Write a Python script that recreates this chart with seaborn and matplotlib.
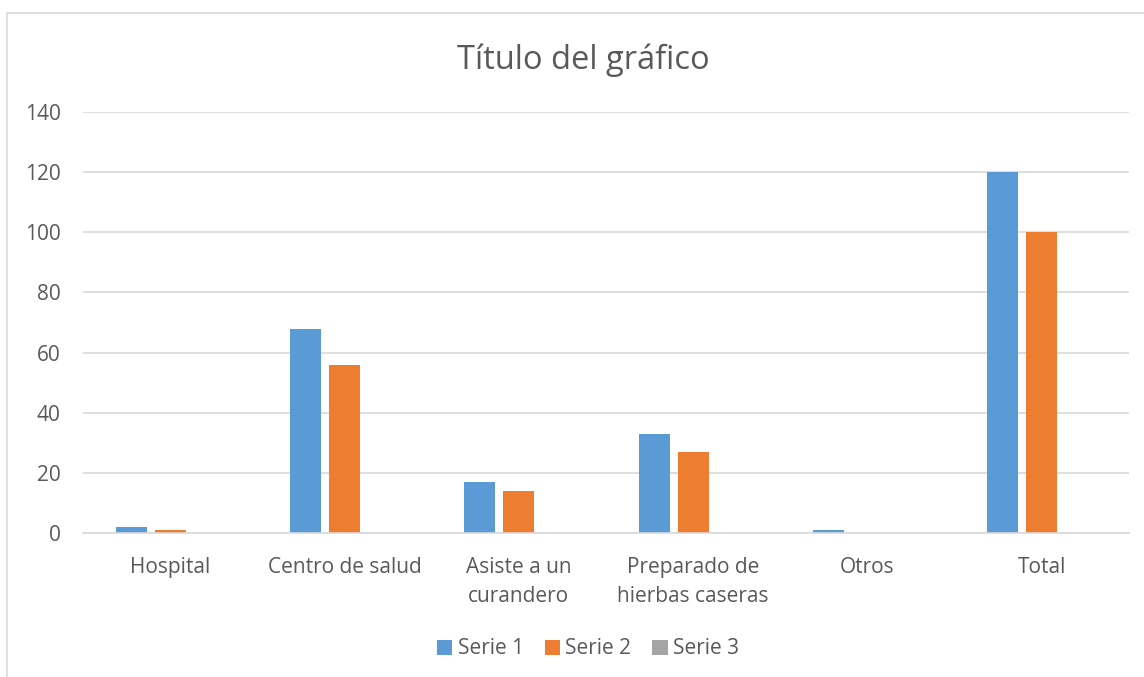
import pandas as pd
import matplotlib
matplotlib.use("Agg")
import matplotlib.pyplot as plt
import seaborn as sns
from matplotlib.patches import Rectangle

# chart data
categorias = ["Hospital", "Centro de salud", "Asiste a un\ncurandero",
              "Preparado de\nhierbas caseras", "Otros", "Total"]
serie_1 = [2, 68, 17, 33, 1, 120]
serie_2 = [1, 56, 14, 27, 0, 100]
serie_3 = [0, 0, 0, 0, 0, 0]
nombres = ["Serie 1", "Serie 2", "Serie 3"]
colores = ["#5B9BD5", "#ED7D31", "#A5A5A5"]
y_ticks = [0, 20, 40, 60, 80, 100, 120, 140]

df = pd.DataFrame({
    "categoria": categorias * 3,
    "valor": serie_1 + serie_2 + serie_3,
    "serie": [n for n in nombres for _ in categorias],
})

sns.set_theme(style="white")
plt.rcParams["font.family"] = ["Open Sans", "DejaVu Sans"]
texto = "#595959"

fig = plt.figure(figsize=(11.44, 6.77), dpi=100)
ax = fig.add_axes([83 / 1144, 1 - 533 / 677, (1129 - 83) / 1144, (533 - 112) / 677])

sns.barplot(data=df, x="categoria", y="valor", hue="serie", palette=colores,
            width=0.67, gap=0.2, ax=ax, legend=True, saturation=1, linewidth=0)

ax.set_ylim(0, 140)
ax.set_yticks(y_ticks)
ax.set_xlim(-0.5, len(categorias) - 0.5)
ax.yaxis.grid(True, color="#D9D9D9", linewidth=1.2)
ax.set_axisbelow(True)
for s in ["top", "right", "left"]:
    ax.spines[s].set_visible(False)
ax.spines["bottom"].set_color("#D9D9D9")
ax.spines["bottom"].set_linewidth(1.2)
ax.tick_params(axis="both", length=0, labelsize=15, colors=texto)
ax.tick_params(axis="x", pad=17)
ax.tick_params(axis="y", pad=16)
for lbl in ax.get_xticklabels():
    lbl.set_linespacing(1.5)
ax.set_xlabel("")
ax.set_ylabel("")

ax.legend(loc="center", bbox_to_anchor=(588 / 1144, 1 - 649 / 677),
          bbox_transform=fig.transFigure, ncol=3, frameon=False, fontsize=15,
          handlelength=0.75, handleheight=0.75, handletextpad=0.25, columnspacing=1.0,
          labelcolor=texto)

fig.text(583 / 1144, 1 - 60 / 677, "Título del gráfico", ha="center", va="center",
         fontsize=23.5, color=texto)

# chart area border
fig.patches.append(Rectangle((7 / 1144, -0.05), 1.1, 1 - 13 / 677 + 0.05,
                             transform=fig.transFigure, fill=False,
                             edgecolor="#D9D9D9", linewidth=1.2))

fig.savefig("out.png", dpi=100, facecolor="white")
